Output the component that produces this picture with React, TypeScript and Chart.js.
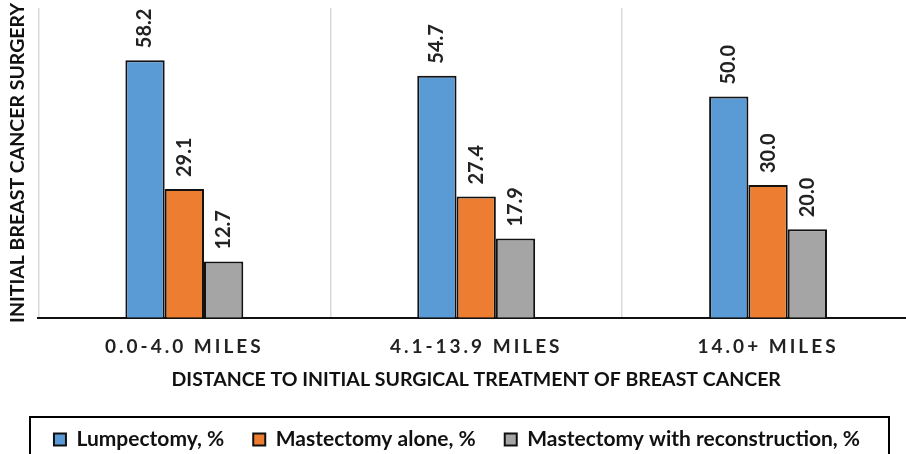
import React, { useEffect, useRef } from "react";
import { Chart, registerables } from "chart.js";

Chart.register(...registerables);

const categories = ["0.0-4.0 MILES", "4.1-13.9 MILES", "14.0+ MILES"];
const seriesNames = [
  "Lumpectomy, %",
  "Mastectomy alone, %",
  "Mastectomy with reconstruction, %",
];
const lumpectomy = [58.2, 54.7, 50.0];
const mastectomyAlone = [29.1, 27.4, 30.0];
const mastectomyRecon = [12.7, 17.9, 20.0];
const seriesColors = ["#5B9BD5", "#ED7D31", "#A5A5A5"];
const yMin = 0;
const yMax = 70;
const xTitle = "DISTANCE TO INITIAL SURGICAL TREATMENT OF BREAST CANCER";
const yTitle = "INITIAL BREAST CANCER SURGERY";

const FONT = "Lato";
const FS = 19;

const labelPlugin = {
  id: "barValueLabels",
  afterDatasetsDraw(chart: any) {
    const ctx = chart.ctx;
    ctx.save();
    ctx.font = `bold 20px ${FONT}`;
    ctx.fillStyle = "#222";
    ctx.textAlign = "left";
    ctx.textBaseline = "middle";
    chart.data.datasets.forEach((ds: any, i: number) => {
      const meta = chart.getDatasetMeta(i);
      meta.data.forEach((el: any, j: number) => {
        const v = ds.data[j];
        ctx.save();
        ctx.translate(el.x, el.y - 12);
        ctx.rotate(-Math.PI / 2);
        ctx.fillText(Number(v).toFixed(1), 0, 0);
        ctx.restore();
      });
    });
    ctx.restore();
    // letter spacing for x tick labels (drawn in a later layer)
    (ctx as any).letterSpacing = "3px";
  },
  afterDraw(chart: any) {
    const ctx = chart.ctx;
    (ctx as any).letterSpacing = "0px";
    ctx.save();
    ctx.strokeStyle = "#000";
    ctx.lineWidth = 2;
    ctx.strokeRect(30, 417, 859, 60);
    ctx.restore();
  },
};

export default function App() {
  const ref = useRef<HTMLCanvasElement>(null);
  useEffect(() => {
    if (!ref.current) return;
    const datasetsValues = [lumpectomy, mastectomyAlone, mastectomyRecon];
    const chart = new Chart(ref.current, {
      type: "bar",
      data: {
        labels: categories,
        datasets: datasetsValues.map((vals, i) => ({
          label: seriesNames[i],
          data: vals,
          backgroundColor: seriesColors[i],
          borderColor: "#111",
          borderWidth: 2,
          barPercentage: 1,
          categoryPercentage: 0.404,
        })),
      },
      options: {
        responsive: false,
        animation: false,
        layout: { padding: { left: 0, top: 8, right: 6, bottom: -6 } },
        plugins: {
          tooltip: { enabled: false },
          legend: {
            position: "bottom",
            labels: {
              boxWidth: 12,
              boxHeight: 12,
              padding: 29,
              color: "#111",
              font: { family: FONT, size: 21, weight: "bold" },
            },
          },
        },
        scales: {
          x: {
            grid: { display: true, drawTicks: false, color: "#D9D9D9", lineWidth: 1.5 },
            border: { display: true, color: "#111", width: 2 },
            ticks: {
              z: 1,
              padding: 18,
              color: "#222",
              maxRotation: 0,
              font: { family: FONT, size: FS, weight: "bold" },
            },
            title: {
              display: true,
              text: xTitle,
              color: "#111",
              padding: { top: -9, bottom: 9 },
              font: { family: FONT, size: 19.5, weight: "bold" },
            },
          },
          y: {
            min: yMin,
            max: yMax,
            ticks: { display: false },
            grid: { display: false, drawTicks: false },
            border: { display: false },
            title: {
              display: true,
              text: yTitle,
              color: "#111",
              padding: { top: 6, bottom: 9 },
              font: { family: FONT, size: 19.5, weight: "bold" },
            },
          },
        },
      },
      plugins: [labelPlugin],
    });
    return () => chart.destroy();
  }, []);
  return (
    <div
      style={{
        position: "fixed",
        left: 0,
        top: 0,
        width: 906,
        height: 454,
        overflow: "hidden",
        background: "#fff",
      }}
    >
      <canvas ref={ref} width={920} height={454} style={{ width: 920, height: 454, display: "block" }} />
    </div>
  );
}
